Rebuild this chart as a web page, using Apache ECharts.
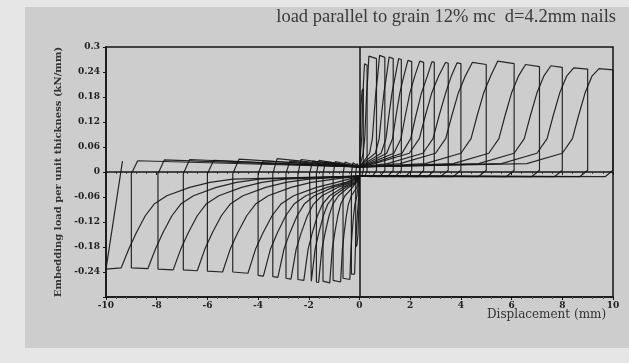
<!DOCTYPE html>
<html>
<head>
<meta charset="utf-8">
<title>Embedding load hysteresis</title>
<script src="https://cdn.jsdelivr.net/npm/echarts@6/dist/echarts.min.js"></script>
<style>
  html, body { margin: 0; padding: 0; background: #e6e6e6; }
  #chart { width: 629px; height: 363px; }
</style>
</head>
<body>
<div id="chart"></div>
<script>
// axis ranges and ticks
const xRange = [-10, 10]
const xStep = 2
const yRange = [-0.3, 0.3]
const yStep = 0.06

const titleText = 'load parallel to grain 12% mc  d=4.2mm nails'
const xName = 'Displacement (mm)'
const yName = 'Embedding load per unit thickness (kN/mm)'

// one cycle = push to +d, unload, pull to -d, unload  ([mm, kN/mm])
const cycle1 = [[0,0],[0.02,0.08],[0.06,0.16],[0.1,0.195],[0.15,0.2],[0.15,0.004],[0.1,-0.008],[0,-0.01],
  [-0.02,-0.07],[-0.06,-0.15],[-0.1,-0.175],[-0.15,-0.18],[-0.15,-0.003],[-0.1,0.02],[0,0.012]]
const cycle2 = [[0,0.012],[0.041,0.045],[0.085,0.08],[0.111,0.135],[0.139,0.19],[0.169,0.23],[0.2,0.26],[0.3,0.256],[0.3,0.004],[0.22,-0.01],[0,-0.01],
  [-0.049,-0.077],[-0.088,-0.105],[-0.128,-0.145],[-0.161,-0.185],[-0.195,-0.245],[-0.32,-0.245],[-0.32,-0.004],[-0.26,0.022],[0,0.012]]
const cycle3 = [[0,0.012],[0.144,0.045],[0.206,0.08],[0.244,0.135],[0.284,0.19],[0.327,0.23],[0.37,0.278],[0.67,0.272],[0.67,0.004],[0.5,-0.011],[0,-0.01],
  [-0.103,-0.057],[-0.18,-0.077],[-0.235,-0.105],[-0.289,-0.145],[-0.336,-0.185],[-0.382,-0.258],[-0.65,-0.255],[-0.65,-0.004],[-0.57,0.024],[0,0.012]]
const cycle4 = [[0,0.012],[0.398,0.045],[0.507,0.08],[0.572,0.135],[0.643,0.19],[0.716,0.23],[0.792,0.28],[1.0,0.275],[1.0,0.004],[0.8,-0.011],[0,-0.01],
  [-0.104,-0.037],[-0.318,-0.057],[-0.436,-0.077],[-0.519,-0.105],[-0.603,-0.145],[-0.674,-0.185],[-0.745,-0.264],[-1.04,-0.26],[-1.04,-0.004],[-0.95,0.025],[0,0.012]]
const cycle5 = [[0,0.012],[0.1,0.02],[0.625,0.045],[0.775,0.08],[0.865,0.135],[0.963,0.19],[1.064,0.23],[1.169,0.276],[1.33,0.272],[1.33,0.004],[1.1,-0.011],[0,-0.01],
  [-0.27,-0.037],[-0.571,-0.057],[-0.739,-0.077],[-0.856,-0.105],[-0.973,-0.145],[-1.074,-0.185],[-1.174,-0.266],[-1.44,-0.262],[-1.44,-0.004],[-1.34,0.025],[0,0.012]]
const cycle6 = [[0,0.012],[0.182,0.02],[0.852,0.045],[1.043,0.08],[1.158,0.135],[1.282,0.19],[1.411,0.23],[1.545,0.272],[1.65,0.27],[1.65,0.004],[1.4,-0.011],[0,-0.01],
  [-0.092,-0.025],[-0.44,-0.037],[-0.831,-0.057],[-1.049,-0.077],[-1.201,-0.105],[-1.353,-0.145],[-1.484,-0.185],[-1.614,-0.265],[-1.7,-0.264],[-1.7,-0.004],[-1.6,0.028],[0,0.012]]
const cycle7 = [[0,0.012],[0.262,0.02],[1.072,0.045],[1.303,0.08],[1.442,0.135],[1.592,0.19],[1.748,0.23],[1.91,0.268],[2.06,0.265],[2.06,0.004],[1.8,-0.011],[0,-0.01],
  [-0.15,-0.025],[-0.55,-0.037],[-1.0,-0.057],[-1.25,-0.077],[-1.425,-0.105],[-1.6,-0.145],[-1.75,-0.185],[-1.9,-0.262],[-1.97,-0.261],[-1.97,-0.004],[-1.85,0.026],[0,0.012]]
const cycle8 = [[0,0.012],[0.365,0.02],[1.354,0.045],[1.636,0.08],[1.806,0.135],[1.989,0.19],[2.18,0.23],[2.378,0.266],[2.53,0.263],[2.53,0.004],[2.3,-0.011],[0,-0.01],
  [-0.211,-0.025],[-0.665,-0.037],[-1.176,-0.057],[-1.459,-0.077],[-1.658,-0.105],[-1.857,-0.145],[-2.027,-0.185],[-2.197,-0.26],[-2.43,-0.258],[-2.43,-0.004],[-2.3,0.03],[0,0.012]]
const cycle9 = [[0,0.012],[0.483,0.02],[1.677,0.045],[2.018,0.08],[2.223,0.135],[2.445,0.19],[2.675,0.23],[2.86,0.265],[2.95,0.263],[2.95,0.004],[2.7,-0.011],[0,-0.01],
  [-0.314,-0.025],[-0.86,-0.037],[-1.475,-0.057],[-1.816,-0.077],[-2.055,-0.105],[-2.294,-0.145],[-2.498,-0.185],[-2.703,-0.257],[-2.9,-0.255],[-2.9,-0.004],[-2.75,0.026],[0,0.012]]
const cycle10 = [[0,0.012],[0.588,0.02],[1.966,0.045],[2.36,0.08],[2.596,0.135],[2.852,0.19],[3.117,0.23],[3.393,0.263],[3.5,0.261],[3.5,0.004],[3.2,-0.011],[0,-0.01],
  [-0.42,-0.025],[-1.06,-0.037],[-1.78,-0.057],[-2.18,-0.077],[-2.46,-0.105],[-2.74,-0.145],[-2.98,-0.185],[-3.22,-0.253],[-3.42,-0.251],[-3.42,-0.004],[-3.25,0.032],[0,0.012]]
const cycle11 = [[0,0.012],[1.1,0.02],[2.5,0.045],[2.9,0.08],[3.14,0.135],[3.4,0.19],[3.62,0.23],[3.85,0.262],[4.0,0.26],[4.0,0.004],[3.7,-0.011],[0,-0.01],
  [-0.537,-0.025],[-1.281,-0.037],[-2.118,-0.057],[-2.583,-0.077],[-2.909,-0.105],[-3.234,-0.145],[-3.513,-0.185],[-3.792,-0.25],[-4.0,-0.248],[-4.0,-0.004],[-3.8,0.027],[0,0.012]]
const cycle12 = [[0,0.012],[1.6,0.02],[3.0,0.045],[3.4,0.08],[3.64,0.135],[3.9,0.19],[4.17,0.23],[4.45,0.263],[5.0,0.258],[5.0,0.004],[4.7,-0.011],[0,-0.01],
  [-0.9,-0.025],[-1.7,-0.037],[-2.6,-0.057],[-3.1,-0.077],[-3.45,-0.105],[-3.8,-0.145],[-4.1,-0.185],[-4.4,-0.243],[-5.0,-0.24],[-5.0,-0.004],[-4.75,0.031],[0,0.012]]
const cycle13 = [[0,0.012],[2.6,0.02],[4.0,0.045],[4.4,0.08],[4.64,0.135],[4.9,0.19],[5.17,0.23],[5.45,0.266],[6.1,0.26],[6.1,0.004],[5.8,-0.011],[0,-0.01],
  [-1.0,-0.017],[-1.9,-0.025],[-2.7,-0.037],[-3.6,-0.057],[-4.1,-0.077],[-4.45,-0.105],[-4.8,-0.145],[-5.1,-0.185],[-5.4,-0.24],[-6.0,-0.238],[-6.0,-0.004],[-5.75,0.028],[0,0.012]]
const cycle14 = [[0,0.012],[3.7,0.02],[5.1,0.045],[5.5,0.08],[5.74,0.135],[6.0,0.19],[6.27,0.23],[6.55,0.258],[7.1,0.253],[7.1,0.004],[6.8,-0.011],[0,-0.01],
  [-2.0,-0.017],[-2.9,-0.025],[-3.7,-0.037],[-4.6,-0.057],[-5.1,-0.077],[-5.45,-0.105],[-5.8,-0.145],[-6.1,-0.185],[-6.4,-0.237],[-6.95,-0.235],[-6.95,-0.004],[-6.7,0.03],[0,0.012]]
const cycle15 = [[0,0.012],[4.7,0.02],[6.1,0.045],[6.5,0.08],[6.74,0.135],[7.0,0.19],[7.27,0.23],[7.55,0.255],[8.0,0.251],[8.0,0.004],[7.7,-0.011],[0,-0.01],
  [-2.95,-0.017],[-3.85,-0.025],[-4.65,-0.037],[-5.55,-0.057],[-6.05,-0.077],[-6.4,-0.105],[-6.75,-0.145],[-7.05,-0.185],[-7.35,-0.235],[-7.95,-0.233],[-7.95,-0.004],[-7.7,0.029],[0,0.012]]
const cycle16 = [[0,0.012],[5.6,0.02],[7.0,0.045],[7.4,0.08],[7.64,0.135],[7.9,0.19],[8.17,0.23],[8.45,0.25],[9.0,0.247],[9.0,0.004],[8.7,-0.011],[0,-0.01],
  [-3.95,-0.017],[-4.85,-0.025],[-5.65,-0.037],[-6.55,-0.057],[-7.05,-0.077],[-7.4,-0.105],[-7.75,-0.145],[-8.05,-0.185],[-8.35,-0.232],[-9.0,-0.23],[-9.0,-0.004],[-8.75,0.027],[0,0.012]]
const cycle17 = [[0,0.012],[6.6,0.02],[8.0,0.045],[8.4,0.08],[8.64,0.135],[8.9,0.19],[9.17,0.23],[9.45,0.248],[10.0,0.245],[10.0,0.004],[9.7,-0.011],[0,-0.01],
  [-5.0,-0.017],[-5.9,-0.025],[-6.7,-0.037],[-7.6,-0.057],[-8.1,-0.077],[-8.45,-0.105],[-8.8,-0.145],[-9.1,-0.185],[-9.4,-0.23],[-10.0,-0.233],[-9.35,0.026]]

const cycles = [cycle1, cycle2, cycle3, cycle4, cycle5, cycle6, cycle7, cycle8, cycle9,
  cycle10, cycle11, cycle12, cycle13, cycle14, cycle15, cycle16, cycle17]

const ink = '#141414'
const serif = '"Liberation Serif", "DejaVu Serif", serif'
const wideSerif = '"DejaVu Serif", "Liberation Serif", serif'

const chart = echarts.init(document.getElementById('chart'), null, { renderer: 'canvas' })

const fmtY = v => {
  if (Math.abs(v + 0.3) < 1e-9) return ''
  if (Math.abs(v) < 1e-9) return '0'
  return String(Math.round(v * 100) / 100)
}

const series = cycles.map((pts, i) => ({
  type: 'line',
  name: 'cycle ' + (i + 1),
  data: pts,
  showSymbol: false,
  silent: true,
  lineStyle: { color: ink, width: 1.2, opacity: 0.9 },
  z: 3
}))

// zero lines through the origin
series.push({
  type: 'line',
  data: [],
  silent: true,
  markLine: {
    silent: true,
    symbol: 'none',
    label: { show: false },
    lineStyle: { color: ink, width: 1.5, type: 'solid' },
    data: [{ xAxis: 0 }, { yAxis: 0 }]
  },
  z: 4
})

chart.setOption({
  backgroundColor: '#e6e6e6',
  animation: false,
  graphic: [
    {
      type: 'rect',
      left: 25, top: 7,
      shape: { width: 604, height: 341 },
      style: { fill: '#cdcdcd' },
      z: -10
    },
    {
      type: 'text',
      right: 13, top: 8,
      style: { text: titleText, font: '18.5px ' + serif, fill: '#3a3a3a' }
    },
    {
      type: 'text',
      left: 487, top: 309,
      style: { text: xName, font: '12px ' + wideSerif, fill: '#333' }
    }
  ],
  grid: {
    left: 106, right: 16, top: 47, bottom: 66,
    show: true, borderColor: ink, borderWidth: 1.5, backgroundColor: 'transparent'
  },
  xAxis: [
    {
      type: 'value',
      min: xRange[0], max: xRange[1], interval: xStep,
      axisLine: { onZero: false, lineStyle: { color: ink, width: 1.5 } },
      axisTick: { show: true, inside: false, length: 3, lineStyle: { color: ink } },
      minorTick: { show: true, splitNumber: 5, length: 2, lineStyle: { color: '#555' } },
      axisLabel: { color: '#222', fontFamily: wideSerif, fontSize: 9, fontWeight: 'bold', margin: 4 },
      splitLine: { show: false }
    },
    {
      type: 'value', position: 'top',
      min: xRange[0], max: xRange[1], interval: xStep,
      axisLine: { show: false },
      axisTick: { show: true, inside: true, length: 3, lineStyle: { color: ink } },
      minorTick: { show: true, splitNumber: 5, length: 2, lineStyle: { color: '#555' } },
      axisLabel: { show: false },
      splitLine: { show: false }
    }
  ],
  yAxis: {
    type: 'value',
    min: yRange[0], max: yRange[1], interval: yStep,
    name: yName,
    nameLocation: 'middle',
    nameGap: 40,
    nameTextStyle: { color: '#333', fontFamily: wideSerif, fontSize: 10, fontWeight: 'bold' },
    axisLine: { onZero: false, lineStyle: { color: ink, width: 1.5 } },
    axisTick: { show: true, length: 3, lineStyle: { color: ink } },
    axisLabel: { color: '#222', fontFamily: wideSerif, fontSize: 9, fontWeight: 'bold', margin: 6, formatter: fmtY },
    splitLine: { show: false }
  },
  series
})
</script>
</body>
</html>
